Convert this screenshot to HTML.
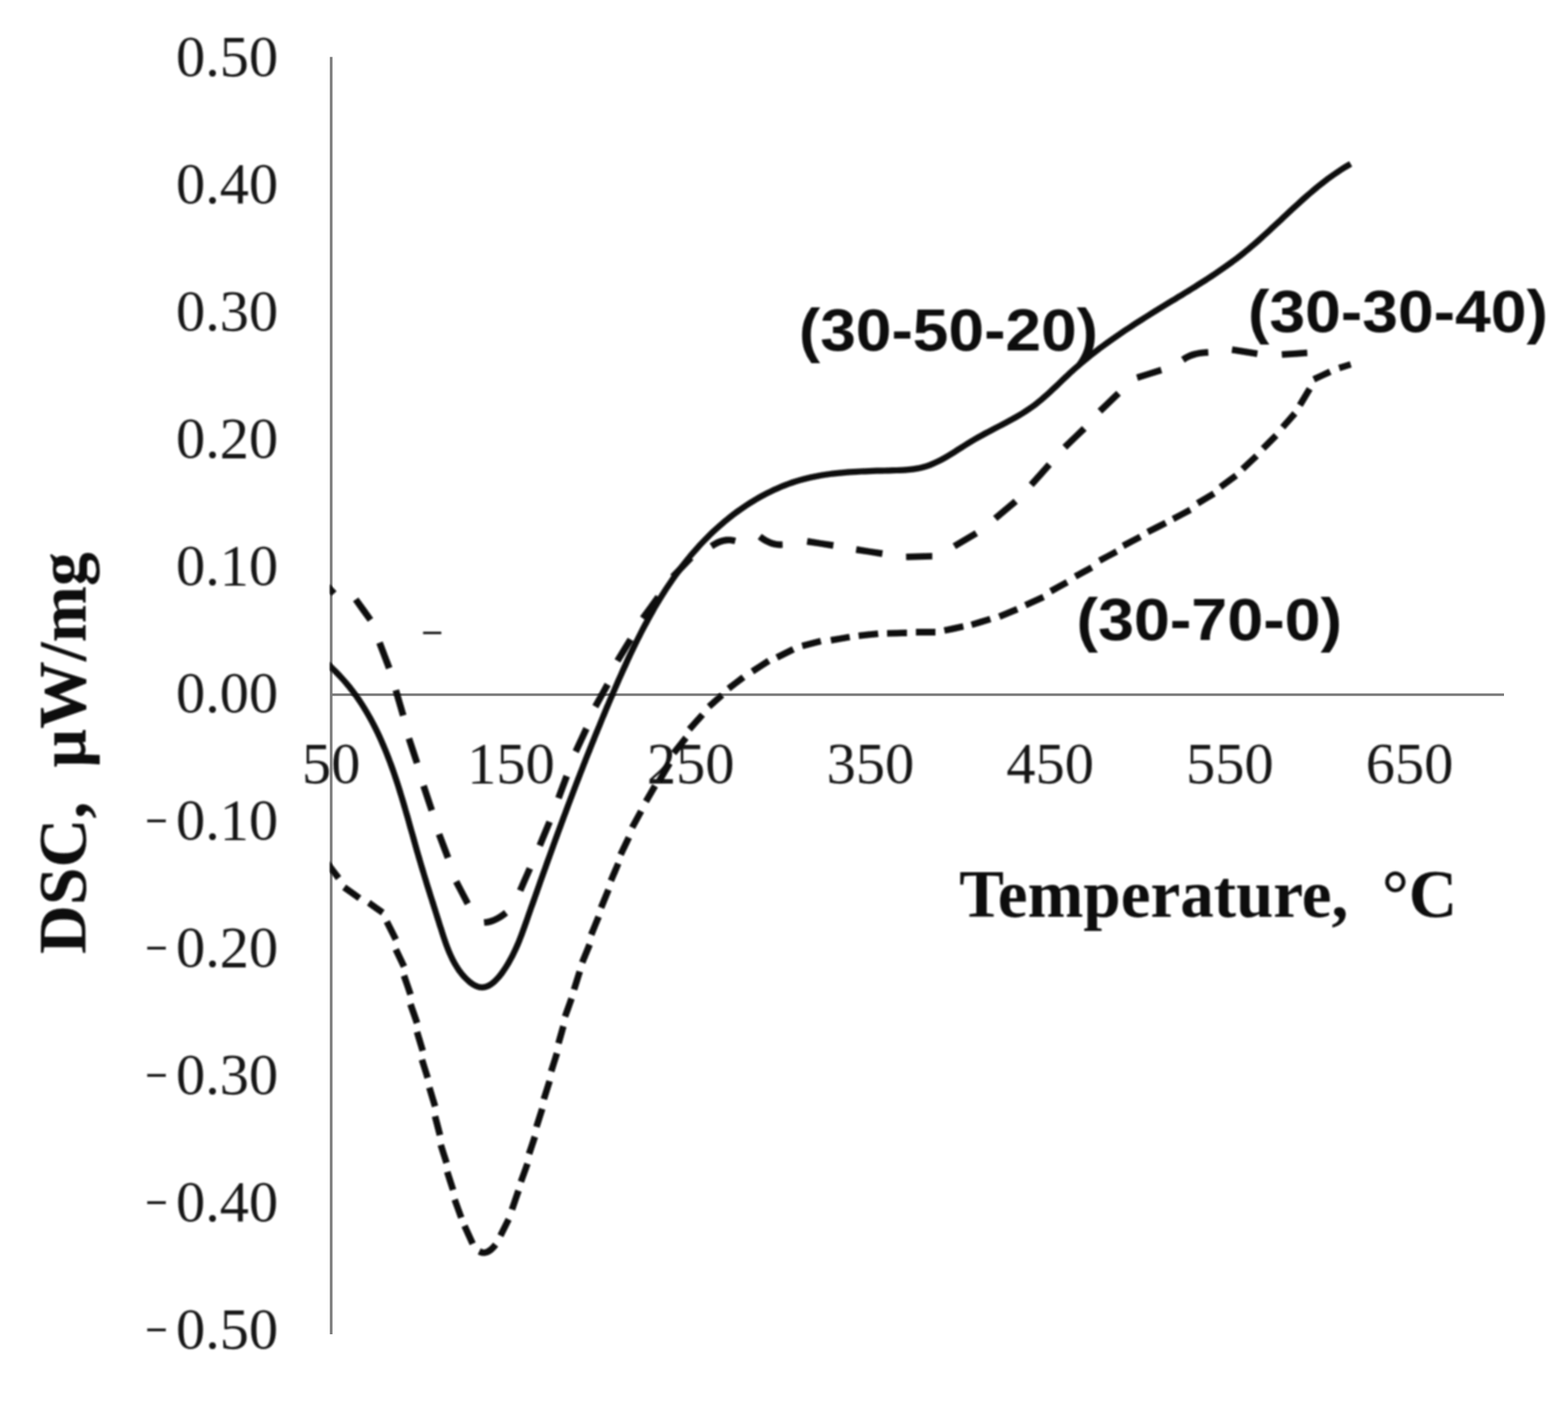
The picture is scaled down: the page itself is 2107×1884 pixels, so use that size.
<!DOCTYPE html>
<html lang="en">
<head>
<meta charset="utf-8">
<title>DSC curves</title>
<style>
html,body{margin:0;padding:0;background:#fff;}
body{width:2107px;height:1884px;overflow:hidden;}
svg{display:block;}
.tk{font-family:"Liberation Serif",serif;font-size:78.5px;fill:#161616;}
.mn{font-size:50px;}
.ttl{font-family:"Liberation Serif",serif;font-weight:bold;font-size:90px;fill:#0c0c0c;}
.lb{font-family:"Liberation Sans","DejaVu Sans",sans-serif;font-weight:bold;font-size:80.5px;fill:#0a0a0a;}
.ax{stroke:#7b7b7b;stroke-width:3.5;fill:none;}
.rb{fill:#0a0a0a;stroke:none;}
</style>
</head>
<body>
<svg xmlns="http://www.w3.org/2000/svg" width="2107" height="1884" viewBox="0 0 2107 1884">
<rect x="0" y="0" width="2107" height="1884" fill="#ffffff"/>
<g filter="url(#soft2)">
<line class="ax" x1="445" y1="76.5" x2="445" y2="1793"/>
<line class="ax" x1="445" y1="933.5" x2="2021" y2="933.5"/>
</g>
<g filter="url(#soft)">
<g>
<text class="tk" x="373.8" y="101.5" text-anchor="end">0.50</text>
<text class="tk" x="373.8" y="272.5" text-anchor="end">0.40</text>
<text class="tk" x="373.8" y="443.5" text-anchor="end">0.30</text>
<text class="tk" x="373.8" y="614.5" text-anchor="end">0.20</text>
<text class="tk" x="373.8" y="785.5" text-anchor="end">0.10</text>
<text class="tk" x="373.8" y="956.5" text-anchor="end">0.00</text>
<text class="tk" text-anchor="end"><tspan class="mn" transform="none" x="226.3" y="1115.1" textLength="32.1" lengthAdjust="spacingAndGlyphs">-</tspan><tspan x="373.8" y="1127.5">0.10</tspan></text>
<text class="tk" text-anchor="end"><tspan class="mn" transform="none" x="226.3" y="1286.1" textLength="32.1" lengthAdjust="spacingAndGlyphs">-</tspan><tspan x="373.8" y="1298.5">0.20</tspan></text>
<text class="tk" text-anchor="end"><tspan class="mn" transform="none" x="226.3" y="1457.1" textLength="32.1" lengthAdjust="spacingAndGlyphs">-</tspan><tspan x="373.8" y="1469.5">0.30</tspan></text>
<text class="tk" text-anchor="end"><tspan class="mn" transform="none" x="226.3" y="1628.1" textLength="32.1" lengthAdjust="spacingAndGlyphs">-</tspan><tspan x="373.8" y="1640.5">0.40</tspan></text>
<text class="tk" text-anchor="end"><tspan class="mn" transform="none" x="226.3" y="1799.1" textLength="32.1" lengthAdjust="spacingAndGlyphs">-</tspan><tspan x="373.8" y="1811.5">0.50</tspan></text>
</g>
<g>
<text class="tk" x="445.0" y="1051.8" text-anchor="middle">50</text>
<text class="tk" x="686.5" y="1051.8" text-anchor="middle">150</text>
<text class="tk" x="928.0" y="1051.8" text-anchor="middle">250</text>
<text class="tk" x="1169.5" y="1051.8" text-anchor="middle">350</text>
<text class="tk" x="1411.0" y="1051.8" text-anchor="middle">450</text>
<text class="tk" x="1652.5" y="1051.8" text-anchor="middle">550</text>
<text class="tk" x="1894.0" y="1051.8" text-anchor="middle">650</text>
</g>
<text class="ttl" x="1289" y="1232" textLength="669" lengthAdjust="spacingAndGlyphs" xml:space="preserve">Temperature,  °C</text>
<text class="ttl" transform="translate(115 1282) rotate(-90)" textLength="540" lengthAdjust="spacingAndGlyphs" xml:space="preserve">DSC,  µW/mg</text>
<text class="lb" x="1073.5" y="471" textLength="402" lengthAdjust="spacingAndGlyphs">(30-50-20)</text>
<text class="lb" x="1677" y="445.5" textLength="403" lengthAdjust="spacingAndGlyphs">(30-30-40)</text>
<text class="lb" x="1446.5" y="860" textLength="357" lengthAdjust="spacingAndGlyphs">(30-70-0)</text>
<g clip-path="url(#plot)">
<path class="rb" d="M434.5 1160.4L443.0 1171.5L451.5 1182.7L458.5 1177.3L450.0 1166.2L441.5 1155.0ZM459.9 1195.9L470.2 1203.2L480.4 1210.6L485.6 1203.4L475.3 1196.1L465.1 1188.7ZM493.1 1216.8L502.4 1223.4L511.8 1230.0L516.8 1222.8L507.5 1216.2L498.1 1209.6ZM515.9 1240.5L521.9 1252.5L528.0 1264.6L535.8 1260.6L529.8 1248.6L523.7 1236.5ZM527.9 1277.7L533.4 1289.2L538.9 1300.8L546.9 1297.0L541.4 1285.5L535.9 1273.9ZM538.7 1312.4L543.1 1325.1L547.4 1337.7L555.8 1334.9L551.4 1322.2L547.1 1309.6ZM547.4 1351.0L551.8 1363.6L556.2 1376.2L564.6 1373.2L560.2 1360.6L555.8 1348.0ZM556.2 1388.1L560.0 1400.7L563.8 1413.3L572.2 1410.7L568.4 1398.1L564.6 1385.5ZM562.8 1425.3L566.7 1437.5L570.5 1449.7L578.9 1447.1L575.0 1434.9L571.2 1422.7ZM572.8 1462.8L576.6 1475.4L580.4 1488.1L588.8 1485.5L585.0 1472.9L581.2 1460.2ZM580.3 1501.1L583.6 1513.8L586.9 1526.4L595.5 1524.2L592.2 1511.5L588.9 1498.9ZM588.1 1539.8L592.0 1551.9L595.8 1563.9L604.2 1561.3L600.3 1549.2L596.5 1537.2ZM596.8 1576.0L600.7 1588.2L604.6 1600.3L613.0 1597.7L609.1 1585.5L605.2 1573.4ZM606.9 1613.5L611.3 1625.6L615.7 1637.8L623.9 1634.8L619.5 1622.7L615.1 1610.5ZM620.2 1649.1L625.7 1661.2L631.2 1673.2L639.2 1669.6L633.7 1657.5L628.2 1645.5ZM642.0 1685.4L645.0 1686.9L648.7 1687.8L652.5 1687.6L656.2 1686.6L659.7 1684.7L663.0 1682.2L666.3 1679.0L669.4 1675.3L662.6 1669.7L659.8 1673.0L657.2 1675.6L654.9 1677.3L652.8 1678.4L651.1 1678.9L649.5 1679.0L648.0 1678.6L646.0 1677.6ZM676.4 1662.4L681.9 1651.4L687.4 1640.5L679.6 1636.5L674.1 1647.5L668.6 1658.4ZM692.2 1626.7L696.5 1614.1L700.9 1601.4L692.5 1598.6L688.2 1611.2L683.8 1623.9ZM704.1 1589.5L708.5 1577.3L712.9 1565.2L704.7 1562.2L700.3 1574.4L695.9 1586.5ZM715.2 1551.9L719.0 1540.4L722.9 1528.9L714.5 1526.1L710.7 1537.6L706.8 1549.1ZM725.1 1515.6L728.9 1503.5L732.8 1491.3L724.4 1488.7L720.6 1500.8L716.7 1513.0ZM735.0 1478.3L738.8 1466.2L742.7 1454.0L734.3 1451.4L730.5 1463.5L726.6 1475.7ZM744.9 1440.9L748.7 1428.8L752.6 1416.7L744.2 1414.1L740.4 1426.2L736.5 1438.3ZM754.7 1403.2L758.0 1391.7L761.2 1380.2L752.8 1377.8L749.5 1389.3L746.3 1400.8ZM763.4 1367.5L767.8 1355.4L772.1 1343.3L763.9 1340.3L759.5 1352.4L755.2 1364.5ZM775.6 1331.0L779.4 1318.9L783.2 1306.8L774.8 1304.2L771.0 1316.3L767.2 1328.4ZM786.5 1295.1L791.4 1283.0L796.4 1270.9L788.2 1267.5L783.3 1279.6L778.3 1291.7ZM798.6 1257.7L803.5 1245.6L808.5 1233.6L800.3 1230.2L795.4 1242.3L790.4 1254.3ZM811.8 1221.5L816.7 1209.4L821.7 1197.3L813.5 1193.9L808.6 1206.0L803.6 1218.1ZM824.9 1185.2L829.9 1173.7L834.8 1162.1L826.8 1158.7L821.8 1170.2L816.9 1181.8ZM838.0 1150.3L843.5 1138.7L849.0 1127.2L841.0 1123.4L835.5 1135.0L830.0 1146.5ZM853.4 1114.1L859.4 1103.1L865.4 1092.1L857.6 1087.9L851.6 1098.9L845.6 1109.9ZM871.8 1079.2L877.9 1068.7L884.0 1058.2L876.4 1053.8L870.3 1064.3L864.2 1074.8ZM889.8 1051.2L896.7 1039.6L903.6 1028.0L896.0 1023.6L889.1 1035.2L882.2 1046.8ZM908.7 1014.8L917.0 1004.5L925.2 994.2L918.4 988.6L910.1 998.9L901.9 1009.2ZM929.7 982.9L938.5 973.1L947.3 963.3L940.7 957.5L931.9 967.3L923.1 977.1ZM955.6 952.8L964.4 945.1L973.2 937.3L967.4 930.7L958.6 938.4L949.8 946.2ZM981.7 928.8L991.7 921.1L1001.7 913.5L996.3 906.5L986.3 914.2L976.3 921.8ZM1013.4 905.9L1024.4 898.8L1035.4 891.7L1030.6 884.3L1019.6 891.4L1008.6 898.5ZM1046.0 887.4L1057.0 881.9L1068.0 876.4L1064.0 868.6L1053.0 874.1L1042.0 879.6ZM1079.1 872.3L1091.6 869.0L1104.1 865.8L1101.9 857.2L1089.4 860.5L1076.9 863.7ZM1117.3 864.7L1129.9 862.5L1142.6 860.3L1141.0 851.7L1128.4 853.9L1115.7 856.1ZM1154.3 858.7L1167.4 857.3L1180.5 856.0L1179.5 847.2L1166.4 848.6L1153.3 849.9ZM1192.1 855.6L1205.5 855.2L1218.8 854.9L1218.6 846.1L1205.2 846.5L1191.9 846.8ZM1230.8 853.9L1243.9 853.9L1257.0 853.9L1257.0 845.1L1243.9 845.1L1230.8 845.1ZM1269.9 851.6L1282.7 848.9L1295.4 846.1L1293.6 837.5L1280.8 840.2L1268.1 843.0ZM1306.8 843.8L1319.4 840.0L1332.1 836.1L1329.5 827.7L1316.9 831.5L1304.2 835.4ZM1344.6 832.7L1356.6 827.7L1368.7 822.8L1365.3 814.6L1353.3 819.6L1341.2 824.5ZM1379.8 817.2L1391.9 811.7L1404.0 806.2L1400.4 798.2L1388.3 803.7L1376.2 809.2ZM1414.1 798.4L1425.1 792.3L1436.1 786.3L1431.9 778.5L1420.9 784.6L1409.9 790.6ZM1447.1 778.6L1458.1 772.5L1469.1 766.5L1464.9 758.7L1453.9 764.8L1442.9 770.8ZM1479.5 757.2L1491.0 751.1L1502.5 745.1L1498.5 737.3L1487.0 743.4L1475.5 749.4ZM1511.3 737.4L1522.9 731.3L1534.4 725.3L1530.4 717.5L1518.8 723.6L1507.3 729.6ZM1544.3 718.7L1556.4 712.7L1568.5 706.6L1564.5 698.8L1552.4 704.8L1540.3 710.9ZM1578.4 701.2L1590.0 695.1L1601.5 689.1L1597.5 681.3L1585.9 687.4L1574.4 693.4ZM1611.6 680.2L1622.6 673.6L1633.6 667.0L1629.0 659.4L1618.0 666.0L1607.0 672.6ZM1642.6 657.9L1653.1 650.2L1663.6 642.5L1658.4 635.5L1647.9 643.2L1637.4 650.9ZM1672.8 633.4L1682.2 624.6L1691.5 615.8L1685.5 609.4L1676.1 618.2L1666.8 627.0ZM1700.4 605.8L1709.2 597.1L1717.9 588.3L1711.7 582.1L1702.9 590.8L1694.2 599.6ZM1726.9 577.1L1735.1 567.8L1743.3 558.4L1736.7 552.6L1728.5 561.9L1720.3 571.3ZM1750.5 546.8L1757.1 535.8L1763.7 524.8L1756.1 520.2L1749.5 531.2L1742.9 542.2ZM1767.3 513.8L1778.3 508.6L1789.3 503.5L1785.5 495.5L1774.5 500.7L1763.5 505.8ZM1800.8 498.7L1808.6 496.2L1816.3 493.8L1813.7 485.4L1805.9 487.9L1798.2 490.3Z"/>
<path class="rb" d="M436.8 791.1L441.3 795.8L445.8 800.6L452.2 794.4L447.7 789.7L443.2 784.9ZM474.4 808.1L484.3 821.9L494.2 835.6L501.4 830.4L491.5 816.6L481.6 802.9ZM505.8 865.3L512.3 882.3L518.8 899.4L527.2 896.2L520.7 879.2L514.2 862.1ZM527.6 928.7L532.6 945.7L537.5 962.7L546.1 960.3L541.1 943.3L536.2 926.3ZM545.3 993.7L550.7 1010.2L556.2 1026.7L564.6 1023.9L559.2 1007.4L553.7 990.9ZM565.0 1057.4L570.5 1073.9L576.0 1090.4L584.4 1087.6L578.9 1071.1L573.4 1054.6ZM585.8 1122.6L591.8 1138.4L597.8 1154.3L606.2 1151.1L600.2 1135.3L594.2 1119.4ZM609.1 1186.7L616.9 1201.5L624.7 1216.4L632.5 1212.2L624.7 1197.4L616.9 1182.5ZM650.9 1244.0L654.7 1243.7L658.8 1242.9L662.8 1241.7L666.8 1240.1L670.8 1238.1L674.8 1235.7L678.8 1233.0L682.7 1229.9L677.3 1222.9L673.6 1225.8L670.0 1228.2L666.6 1230.3L663.2 1231.9L659.9 1233.3L656.6 1234.2L653.4 1234.9L650.1 1235.2ZM703.1 1198.5L709.6 1183.6L716.1 1168.8L707.9 1165.2L701.4 1180.1L694.9 1194.9ZM729.4 1138.0L736.0 1122.1L742.6 1106.1L734.4 1102.7L727.8 1118.6L721.2 1134.6ZM754.7 1074.1L760.2 1059.3L765.7 1044.5L757.3 1041.3L751.8 1056.1L746.3 1070.9ZM777.6 1011.9L784.8 996.4L792.0 980.9L784.0 977.1L776.8 992.6L769.6 1008.1ZM803.9 951.7L812.1 936.8L820.4 922.0L812.6 917.6L804.4 932.5L796.1 947.3ZM833.5 890.3L842.3 876.0L851.1 861.6L843.5 857.0L834.7 871.3L825.9 885.7ZM867.3 833.4L877.7 819.1L888.2 804.8L881.0 799.6L870.6 813.9L860.1 828.2ZM907.2 778.1L919.5 765.3L931.8 752.6L925.4 746.4L913.1 759.2L900.8 771.9ZM958.4 737.8L962.4 735.2L966.2 733.2L969.9 731.7L973.5 730.7L976.9 730.2L980.2 730.1L983.5 730.5L986.9 731.3L989.1 722.7L985.0 721.7L980.5 721.2L976.1 721.3L971.5 722.1L967.0 723.3L962.5 725.1L958.0 727.5L953.6 730.2ZM1018.2 724.4L1022.1 727.4L1026.1 730.0L1030.3 732.1L1034.5 733.9L1038.8 735.2L1043.1 736.0L1047.5 736.4L1051.7 736.3L1051.5 727.5L1047.8 727.5L1044.4 727.2L1040.9 726.6L1037.5 725.5L1034.1 724.1L1030.6 722.3L1027.2 720.1L1023.6 717.4ZM1083.9 731.9L1101.5 734.6L1119.1 737.4L1120.5 728.6L1102.9 725.9L1085.3 723.1ZM1149.8 742.9L1167.4 745.6L1185.0 748.4L1186.4 739.6L1168.8 736.9L1151.2 734.1ZM1217.7 752.8L1235.3 752.3L1252.8 751.7L1252.6 742.9L1235.0 743.4L1217.5 744.0ZM1284.7 737.8L1299.5 729.1L1314.3 720.3L1309.7 712.7L1294.9 721.4L1280.1 730.2ZM1340.3 700.1L1354.0 688.6L1367.7 677.0L1361.9 670.2L1348.2 681.7L1334.5 693.3ZM1389.0 654.6L1401.2 640.9L1413.3 627.2L1406.7 621.2L1394.5 634.9L1382.4 648.6ZM1433.9 604.2L1447.0 591.6L1460.1 579.0L1453.9 572.6L1440.8 585.2L1427.7 597.8ZM1481.1 555.7L1493.6 543.7L1506.1 531.7L1499.9 525.3L1487.4 537.3L1474.9 549.3ZM1529.3 511.7L1545.6 506.6L1561.8 501.5L1559.2 493.1L1542.9 498.2L1526.7 503.3ZM1592.1 487.2L1595.1 485.1L1598.1 483.4L1601.5 481.9L1605.3 480.7L1609.4 479.6L1613.8 478.8L1618.6 478.3L1623.9 477.9L1623.3 469.1L1617.8 469.4L1612.5 470.0L1607.5 470.9L1602.7 472.1L1598.3 473.6L1594.2 475.4L1590.4 477.6L1587.1 479.8ZM1654.8 474.2L1671.8 476.9L1688.9 479.7L1690.3 470.9L1673.3 468.2L1656.2 465.4ZM1722.8 480.8L1739.8 479.7L1756.9 478.6L1756.3 469.8L1739.3 470.9L1722.2 472.0Z"/>
<path class="rb" d="M436.6 894.3L440.9 898.5L444.8 902.2L448.6 905.9L452.2 909.7L455.8 913.5L459.3 917.3L462.6 921.3L465.9 925.3L469.1 929.3L472.2 933.4L475.3 937.6L478.2 941.8L481.1 946.0L483.9 950.3L486.6 954.7L489.2 959.1L491.8 963.5L494.3 968.0L496.8 972.5L499.1 977.1L501.5 981.7L503.7 986.3L505.9 991.0L508.1 995.7L510.1 1000.4L512.2 1005.2L514.2 1010.0L516.1 1014.8L518.0 1019.7L519.9 1024.5L521.7 1029.4L523.4 1034.3L525.2 1039.3L526.9 1044.2L528.5 1049.2L530.2 1054.2L531.8 1059.2L533.3 1064.2L534.9 1069.3L536.4 1074.3L537.9 1079.3L539.4 1084.4L540.9 1089.4L542.3 1094.5L543.8 1099.6L545.2 1104.6L546.6 1109.7L548.0 1114.7L549.5 1119.8L550.9 1124.8L552.3 1129.9L553.7 1134.9L555.1 1139.9L556.5 1144.9L558.0 1149.9L559.4 1154.9L560.9 1159.8L562.3 1164.8L563.8 1169.7L565.3 1174.6L566.8 1179.6L568.3 1184.5L569.8 1189.4L571.3 1194.3L572.9 1199.2L574.4 1204.2L576.0 1209.1L577.5 1214.1L579.1 1219.1L580.7 1224.1L582.3 1229.1L583.9 1234.2L585.5 1239.3L587.1 1244.4L588.8 1249.6L590.4 1254.8L592.1 1260.0L593.9 1265.3L595.7 1270.5L597.7 1275.8L599.8 1281.0L602.1 1286.1L604.5 1291.2L607.2 1296.2L610.1 1301.1L613.2 1305.9L616.7 1310.5L620.4 1314.9L624.5 1319.1L628.7 1322.9L633.3 1326.2L638.0 1328.7L643.0 1330.4L648.2 1331.0L653.3 1330.2L658.1 1328.4L662.6 1325.8L666.7 1322.4L670.6 1318.6L674.3 1314.4L677.8 1309.9L681.0 1305.3L684.1 1300.6L686.9 1295.9L689.6 1291.1L692.2 1286.2L694.6 1281.3L696.9 1276.4L699.1 1271.4L701.2 1266.5L703.1 1261.5L705.1 1256.4L706.9 1251.4L708.7 1246.4L710.5 1241.4L712.3 1236.3L714.0 1231.3L715.8 1226.3L717.5 1221.3L719.3 1216.4L721.1 1211.4L722.8 1206.4L724.6 1201.4L726.3 1196.5L728.1 1191.5L729.8 1186.5L731.6 1181.6L733.4 1176.6L735.1 1171.7L736.9 1166.7L738.7 1161.8L740.4 1156.9L742.2 1152.0L744.0 1147.0L745.8 1142.1L747.5 1137.2L749.3 1132.3L751.1 1127.4L752.9 1122.5L754.7 1117.6L756.5 1112.7L758.3 1107.8L760.1 1102.9L761.9 1098.0L763.8 1093.1L765.6 1088.2L767.4 1083.3L769.2 1078.5L771.1 1073.6L772.9 1068.7L774.8 1063.8L776.6 1059.0L778.5 1054.1L780.4 1049.2L782.2 1044.4L784.1 1039.5L786.0 1034.7L787.9 1029.8L789.8 1025.0L791.7 1020.1L793.6 1015.3L795.6 1010.4L797.5 1005.6L799.4 1000.7L801.4 995.9L803.3 991.0L805.3 986.2L807.3 981.3L809.3 976.5L811.2 971.7L813.2 966.8L815.3 962.0L817.3 957.1L819.3 952.3L821.3 947.5L823.4 942.6L825.5 937.8L827.5 932.9L829.6 928.1L831.7 923.3L833.8 918.4L835.9 913.6L838.1 908.8L840.2 904.0L842.4 899.2L844.6 894.4L846.8 889.6L849.0 884.8L851.2 880.0L853.5 875.3L855.8 870.5L858.1 865.8L860.4 861.1L862.8 856.4L865.1 851.8L867.6 847.1L870.0 842.5L872.5 837.9L875.0 833.3L877.5 828.7L880.1 824.2L882.6 819.6L885.3 815.1L887.9 810.7L890.6 806.2L893.4 801.8L896.1 797.5L898.9 793.1L901.8 788.8L904.7 784.5L907.6 780.3L910.6 776.1L913.6 771.9L916.7 767.7L919.8 763.6L922.9 759.6L926.1 755.6L929.3 751.6L932.6 747.6L936.0 743.8L939.4 739.9L942.8 736.1L946.3 732.3L949.9 728.6L953.5 725.0L957.1 721.3L960.8 717.8L964.6 714.3L968.5 710.8L972.3 707.4L976.3 704.0L980.3 700.7L984.4 697.5L988.5 694.3L992.7 691.2L996.9 688.2L1001.2 685.2L1005.5 682.3L1009.9 679.5L1014.4 676.7L1018.8 674.0L1023.3 671.5L1027.9 669.0L1032.5 666.5L1037.2 664.2L1041.8 662.0L1046.5 659.9L1051.3 657.8L1056.1 655.9L1060.9 654.1L1065.7 652.4L1070.6 650.8L1075.5 649.3L1080.4 647.9L1085.4 646.7L1090.4 645.5L1095.4 644.4L1100.4 643.5L1105.5 642.6L1110.5 641.8L1115.7 641.1L1120.8 640.4L1125.9 639.9L1131.1 639.4L1136.3 638.9L1141.5 638.5L1146.7 638.2L1151.9 637.9L1157.2 637.6L1162.4 637.4L1167.7 637.2L1173.0 637.0L1178.2 636.8L1183.5 636.7L1188.8 636.6L1194.1 636.4L1199.4 636.3L1204.7 636.1L1210.1 635.9L1215.4 635.7L1220.7 635.3L1226.0 634.7L1231.3 633.9L1236.5 632.9L1241.7 631.7L1246.8 630.2L1251.8 628.4L1256.7 626.3L1261.5 624.1L1266.2 621.7L1270.9 619.2L1275.5 616.5L1280.1 613.7L1284.6 610.9L1289.1 608.1L1293.6 605.2L1298.1 602.3L1302.6 599.5L1307.1 596.7L1311.6 594.0L1316.2 591.4L1320.8 588.9L1325.4 586.4L1330.0 583.9L1334.7 581.5L1339.3 579.1L1344.0 576.6L1348.6 574.2L1353.3 571.8L1357.9 569.3L1362.5 566.8L1367.1 564.2L1371.7 561.6L1376.2 558.8L1380.6 556.0L1385.0 553.1L1389.3 550.1L1393.6 546.9L1397.8 543.6L1401.8 540.3L1405.9 536.8L1409.8 533.3L1413.7 529.7L1417.6 526.1L1421.5 522.4L1425.3 518.8L1429.1 515.1L1432.9 511.5L1436.7 507.9L1440.5 504.3L1444.4 500.8L1448.3 497.3L1452.2 493.9L1456.2 490.5L1460.2 487.2L1464.2 483.9L1468.3 480.6L1472.3 477.4L1476.5 474.2L1480.6 471.1L1484.8 468.0L1489.0 464.9L1493.2 461.9L1497.4 458.9L1501.7 455.9L1506.0 453.0L1510.3 450.0L1514.6 447.1L1519.0 444.2L1523.3 441.4L1527.7 438.5L1532.1 435.7L1536.5 432.9L1540.9 430.1L1545.4 427.3L1549.8 424.6L1554.3 421.8L1558.7 419.1L1563.2 416.3L1567.6 413.6L1572.1 410.8L1576.6 408.1L1581.1 405.4L1585.6 402.6L1590.0 399.9L1594.5 397.1L1599.0 394.4L1603.5 391.6L1607.9 388.9L1612.4 386.1L1616.8 383.2L1621.3 380.4L1625.7 377.6L1630.1 374.7L1634.5 371.8L1638.8 368.8L1643.2 365.8L1647.5 362.8L1651.8 359.8L1656.1 356.7L1660.3 353.6L1664.5 350.4L1668.7 347.2L1672.8 343.9L1676.9 340.6L1681.0 337.2L1685.0 333.8L1689.0 330.4L1693.0 326.9L1696.9 323.4L1700.8 319.8L1704.7 316.3L1708.6 312.7L1712.5 309.1L1716.3 305.5L1720.1 301.9L1724.0 298.4L1727.8 294.8L1731.6 291.2L1735.5 287.6L1739.3 284.0L1743.2 280.5L1747.0 276.9L1750.9 273.4L1754.8 269.9L1758.7 266.5L1762.6 263.1L1766.6 259.7L1770.5 256.4L1774.6 253.1L1778.6 249.9L1782.7 246.7L1786.8 243.6L1791.0 240.6L1795.2 237.6L1799.4 234.7L1803.7 231.8L1808.1 229.1L1812.5 226.4L1817.0 223.8L1812.9 216.7L1808.3 219.3L1803.8 222.1L1799.3 225.0L1794.8 227.9L1790.5 230.9L1786.2 233.9L1781.9 237.0L1777.7 240.2L1773.5 243.5L1769.4 246.7L1765.3 250.1L1761.3 253.5L1757.3 256.9L1753.3 260.3L1749.3 263.8L1745.4 267.3L1741.5 270.9L1737.6 274.4L1733.7 278.0L1729.9 281.6L1726.0 285.2L1722.2 288.8L1718.4 292.4L1714.5 296.0L1710.7 299.6L1706.9 303.1L1703.0 306.7L1699.2 310.2L1695.3 313.8L1691.4 317.3L1687.5 320.7L1683.6 324.2L1679.7 327.6L1675.7 330.9L1671.7 334.2L1667.7 337.5L1663.6 340.7L1659.5 343.9L1655.4 347.0L1651.2 350.1L1647.0 353.1L1642.8 356.1L1638.5 359.1L1634.2 362.0L1629.9 364.9L1625.6 367.8L1621.2 370.7L1616.8 373.5L1612.4 376.3L1608.0 379.1L1603.6 381.9L1599.2 384.7L1594.7 387.4L1590.2 390.2L1585.8 392.9L1581.3 395.6L1576.8 398.4L1572.3 401.1L1567.8 403.8L1563.4 406.6L1558.9 409.3L1554.4 412.1L1549.9 414.8L1545.5 417.6L1541.0 420.4L1536.6 423.2L1532.1 426.0L1527.7 428.8L1523.3 431.6L1518.9 434.5L1514.5 437.4L1510.1 440.3L1505.7 443.2L1501.4 446.2L1497.0 449.2L1492.7 452.2L1488.4 455.2L1484.2 458.3L1479.9 461.4L1475.7 464.5L1471.5 467.7L1467.3 470.9L1463.2 474.2L1459.0 477.5L1455.0 480.8L1450.9 484.2L1446.9 487.7L1442.9 491.2L1438.9 494.7L1435.0 498.3L1431.1 501.9L1427.2 505.5L1423.4 509.2L1419.6 512.9L1415.8 516.5L1412.0 520.1L1408.2 523.7L1404.3 527.2L1400.5 530.6L1396.6 534.0L1392.6 537.2L1388.6 540.4L1384.5 543.4L1380.4 546.3L1376.2 549.1L1371.8 551.9L1367.5 554.5L1363.0 557.1L1358.6 559.6L1354.0 562.1L1349.5 564.5L1344.8 566.9L1340.2 569.4L1335.5 571.8L1330.9 574.2L1326.2 576.7L1321.5 579.1L1316.8 581.7L1312.1 584.3L1307.5 587.0L1302.8 589.7L1298.3 592.5L1293.7 595.4L1289.2 598.3L1284.7 601.1L1280.3 604.0L1275.8 606.7L1271.3 609.4L1266.9 612.0L1262.4 614.4L1257.9 616.7L1253.4 618.8L1248.8 620.7L1244.2 622.4L1239.5 623.8L1234.8 624.9L1229.9 625.8L1225.0 626.6L1220.0 627.1L1214.9 627.5L1209.7 627.8L1204.5 628.0L1199.2 628.1L1193.9 628.2L1188.6 628.4L1183.3 628.5L1178.0 628.6L1172.7 628.8L1167.4 629.0L1162.1 629.2L1156.8 629.4L1151.5 629.7L1146.2 630.0L1140.9 630.3L1135.6 630.7L1130.3 631.2L1125.1 631.7L1119.8 632.3L1114.6 633.0L1109.3 633.7L1104.1 634.5L1098.9 635.4L1093.7 636.4L1088.6 637.5L1083.4 638.7L1078.3 640.0L1073.2 641.4L1068.1 643.0L1063.1 644.6L1058.1 646.4L1053.1 648.3L1048.2 650.3L1043.3 652.4L1038.4 654.6L1033.6 656.9L1028.8 659.2L1024.0 661.7L1019.3 664.3L1014.7 667.0L1010.1 669.7L1005.5 672.5L1001.0 675.4L996.6 678.4L992.2 681.5L987.8 684.6L983.5 687.8L979.3 691.1L975.1 694.4L971.0 697.8L967.0 701.2L963.0 704.7L959.1 708.2L955.2 711.8L951.4 715.5L947.7 719.2L944.0 722.9L940.4 726.7L936.8 730.6L933.3 734.4L929.8 738.4L926.4 742.3L923.0 746.4L919.7 750.4L916.5 754.5L913.2 758.7L910.1 762.8L907.0 767.0L903.9 771.3L900.9 775.6L897.9 779.9L895.0 784.2L892.1 788.6L889.2 793.0L886.4 797.5L883.6 801.9L880.9 806.4L878.2 811.0L875.6 815.5L872.9 820.1L870.3 824.7L867.8 829.3L865.3 834.0L862.8 838.6L860.3 843.3L857.9 848.0L855.5 852.7L853.1 857.5L850.7 862.2L848.4 867.0L846.1 871.7L843.8 876.5L841.5 881.3L839.3 886.1L837.1 891.0L834.9 895.8L832.7 900.6L830.6 905.5L828.4 910.3L826.3 915.1L824.2 920.0L822.1 924.9L820.0 929.7L817.9 934.6L815.8 939.4L813.8 944.3L811.7 949.1L809.7 954.0L807.7 958.8L805.7 963.7L803.7 968.5L801.7 973.4L799.7 978.2L797.7 983.1L795.7 987.9L793.8 992.8L791.8 997.7L789.9 1002.5L787.9 1007.4L786.0 1012.2L784.1 1017.1L782.2 1022.0L780.3 1026.8L778.4 1031.7L776.5 1036.6L774.6 1041.4L772.7 1046.3L770.8 1051.2L769.0 1056.1L767.1 1060.9L765.3 1065.8L763.4 1070.7L761.6 1075.6L759.7 1080.5L757.9 1085.3L756.1 1090.2L754.3 1095.1L752.4 1100.0L750.6 1104.9L748.8 1109.8L747.0 1114.7L745.2 1119.6L743.4 1124.6L741.6 1129.5L739.8 1134.4L738.1 1139.3L736.3 1144.2L734.5 1149.2L732.7 1154.1L730.9 1159.0L729.2 1164.0L727.4 1168.9L725.6 1173.9L723.9 1178.8L722.1 1183.8L720.4 1188.8L718.6 1193.7L716.8 1198.7L715.1 1203.7L713.3 1208.7L711.6 1213.6L709.8 1218.6L708.1 1223.6L706.3 1228.6L704.6 1233.6L702.8 1238.6L701.0 1243.6L699.2 1248.6L697.4 1253.5L695.5 1258.5L693.6 1263.4L691.5 1268.2L689.4 1273.0L687.2 1277.8L684.9 1282.5L682.4 1287.1L679.8 1291.7L677.1 1296.2L674.2 1300.7L671.2 1305.0L668.0 1309.2L664.6 1313.0L661.3 1316.3L657.9 1319.0L654.5 1321.1L651.2 1322.3L648.1 1322.8L644.8 1322.4L641.3 1321.2L637.6 1319.2L633.9 1316.5L630.1 1313.2L626.5 1309.5L623.1 1305.4L619.9 1301.2L617.0 1296.8L614.3 1292.2L611.8 1287.5L609.5 1282.7L607.3 1277.8L605.3 1272.8L603.4 1267.7L601.6 1262.6L599.9 1257.4L598.2 1252.3L596.6 1247.1L594.9 1241.9L593.3 1236.8L591.7 1231.7L590.1 1226.7L588.5 1221.6L586.9 1216.6L585.4 1211.6L583.8 1206.7L582.2 1201.7L580.7 1196.8L579.2 1191.9L577.6 1187.0L576.1 1182.1L574.6 1177.2L573.1 1172.3L571.7 1167.3L570.2 1162.4L568.7 1157.5L567.3 1152.6L565.8 1147.6L564.4 1142.7L563.0 1137.7L561.6 1132.7L560.2 1127.6L558.8 1122.6L557.3 1117.6L555.9 1112.5L554.5 1107.5L553.1 1102.4L551.7 1097.3L550.2 1092.2L548.7 1087.2L547.3 1082.1L545.8 1077.0L544.3 1071.9L542.7 1066.9L541.2 1061.8L539.6 1056.7L538.0 1051.7L536.3 1046.6L534.6 1041.6L532.9 1036.6L531.2 1031.6L529.4 1026.6L527.5 1021.7L525.7 1016.7L523.7 1011.8L521.8 1006.9L519.7 1002.0L517.7 997.2L515.5 992.3L513.4 987.5L511.1 982.8L508.8 978.0L506.4 973.3L504.0 968.7L501.5 964.0L498.9 959.4L496.3 954.9L493.6 950.4L490.8 945.9L487.9 941.5L485.0 937.1L481.9 932.8L478.8 928.5L475.6 924.3L472.3 920.1L468.9 916.0L465.4 911.9L461.8 907.9L458.2 904.0L454.4 900.1L450.5 896.3L446.6 892.6L442.4 888.4Z"/>
</g>
<line x1="568.5" y1="850.5" x2="593" y2="850.5" stroke="#111" stroke-width="3.2"/>
</g>
<defs>
<clipPath id="plot"><rect x="443.3" y="0" width="1700" height="1884"/></clipPath>
<filter id="soft2" x="0" y="0" width="2107" height="1884" filterUnits="userSpaceOnUse"><feGaussianBlur stdDeviation="0.7"/></filter>
<filter id="soft" x="0" y="0" width="2107" height="1884" filterUnits="userSpaceOnUse"><feGaussianBlur stdDeviation="1.2"/></filter>
</defs>
</svg>
</body>
</html>
